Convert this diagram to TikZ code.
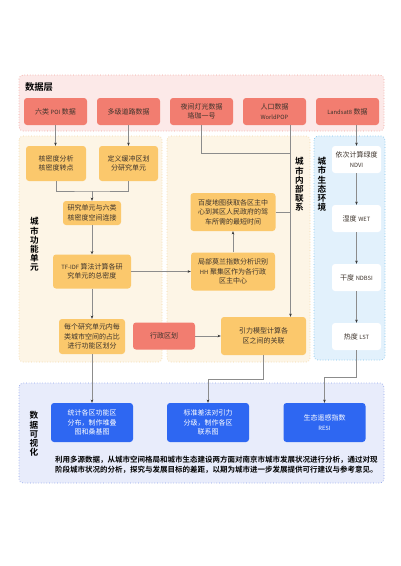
\documentclass[tikz,border=0pt]{standalone}
\usepackage{fontspec}
\setmainfont{Noto Sans CJK SC}[BoldFont={Noto Sans CJK SC Bold}]
\usetikzlibrary{positioning, arrows.meta}

\definecolor{salmon}{HTML}{F27D70}
\definecolor{amber}{HTML}{FBC86C}
\definecolor{royal}{HTML}{2E67F2}
\definecolor{textgray}{HTML}{3E342C}
\definecolor{linegray}{HTML}{8C8C8C}
\definecolor{tipdark}{HTML}{333333}
\definecolor{pinkbg}{HTML}{FCE9E8}
\definecolor{pinkline}{HTML}{F2A39B}
\definecolor{creambg}{HTML}{FDF5E6}
\definecolor{creamline}{HTML}{F3D6A2}
\definecolor{skybg}{HTML}{E2F1FC}
\definecolor{skyline}{HTML}{7DC3EC}
\definecolor{lavbg}{HTML}{E8ECFB}
\definecolor{lavline}{HTML}{8CA2EA}
\newcommand{\lat}[1]{{\fontsize{5.8}{9.5}\selectfont #1}}

\begin{document}
\begin{tikzpicture}
[
    x=1pt, y=-1pt, on grid, node distance=73pt,
    box/.style={rounded corners=3pt, align=center, inner sep=0pt, text=textgray, font=\fontsize{7}{9.5}\selectfont},
    red_box/.style={box, fill=salmon, minimum width=63pt, minimum height=27pt},
    orange_box/.style={box, fill=amber},
    white_box/.style={box, fill=white, minimum width=49pt, minimum height=27pt},
    blue_box/.style={box, fill=royal, text=white, minimum width=82pt, minimum height=39pt},
    panel/.style={rounded corners=4pt, dotted, line width=0.7pt},
    panel_label/.style={inner sep=0pt, align=center, text=black, font=\bfseries\fontsize{8.6}{9.2}\selectfont},
    link/.style={draw=linegray, line width=0.6pt},
    arrow/.style={link, -{Stealth[length=3.2pt, width=2.6pt, color=tipdark]}},
]
    \useasboundingbox[fill=white] (0,0) rectangle (400,566) ;
    % panels
    \draw[panel, draw=pinkline, fill=pinkbg] (19,75) rectangle (384,131) ;
    \draw[panel, draw=creamline, fill=creambg] (19,136) rectangle (162,362) ;
    \draw[panel, draw=creamline, fill=creambg] (167,136) rectangle (310,362) ;
    \draw[panel, draw=skyline, fill=skybg] (314,136) rectangle (385,360) ;
    \draw[panel, draw=lavline, fill=lavbg] (19,383) rectangle (384,483) ;

    \node[panel_label, font=\bfseries\fontsize{9.3}{10}\selectfont] (data_title) at (39,87) {数据层} ;
    \node[panel_label] (func_label) at (34.5,244.5) {城\\市\\功\\能\\单\\元} ;
    \node[panel_label] (link_label) at (299.5,184.5) {城\\市\\内\\部\\联\\系} ;
    \node[panel_label] (eco_label) at (322,184.5) {城\\市\\生\\态\\环\\境} ;
    \node[panel_label] (vis_label) at (34,434) {数\\据\\可\\视\\化} ;

    % data layer
    \node[red_box] (poi) at (55.5,111.5) {六类 \lat{POI} 数据} ;
    \node[red_box, right = of poi] (road) {多级道路数据} ;
    \node[red_box, right = of road] (light) {夜间灯光数据\\珞珈一号} ;
    \node[red_box, right = of light] (pop) {人口数据\\\lat{WorldPOP}} ;
    \node[red_box, right = of pop] (landsat) {\lat{Landsat8} 数据} ;

    % city function units
    \node[orange_box, minimum width=60pt, minimum height=35pt] (kde) at (56,163.5) {核密度分析\\核密度转点} ;
    \node[orange_box, minimum width=59pt, minimum height=35pt, right = 72.5pt of kde] (buffer) {定义缓冲区划\\分研究单元} ;
    \node[orange_box, minimum width=58pt, minimum height=24pt] (join) at (92,213) {研究单元与六类\\核密度空间连接} ;
    \node[orange_box, minimum width=78pt, minimum height=34pt, below = 58.5pt of join] (tfidf) {\lat{TF-IDF} 算法计算各研\\究单元的总密度} ;
    \node[orange_box, minimum width=66pt, minimum height=35pt, below = 65pt of tfidf] (share) {每个研究单元内每\\类城市空间的占比\\进行功能区划分} ;
    \node[red_box, minimum width=62pt] (admin) at (164,336) {行政区划} ;

    % city internal links
    \node[orange_box, minimum width=84pt, minimum height=38pt] (moran) at (233,271.5) {局部莫兰指数分析识别\\\lat{HH} 聚集区作为各行政\\区主中心} ;
    \node[orange_box, minimum width=85pt, minimum height=38pt, above = 59.5pt of moran] (baidu) {百度地图获取各区主中\\心到其区人民政府的驾\\车所需的最短时间} ;
    \node[orange_box, minimum width=85pt, minimum height=38pt] (gravity) at (263.5,336) {引力模型计算各\\区之间的关联} ;

    % city ecology
    \node[white_box] (ndvi) at (356.5,159.5) {依次计算绿度\\\lat{NDVI}} ;
    \node[white_box, below = 59pt of ndvi] (wet) {湿度 \lat{WET}} ;
    \node[white_box, below = 59pt of wet] (ndbsi) {干度 \lat{NDBSI}} ;
    \node[white_box, below = 59pt of ndbsi] (lst) {热度 \lat{LST}} ;

    % visualisation
    \node[blue_box] (stat) at (92,422.5) {统计各区功能区\\分布，制作堆叠\\图和桑基图} ;
    \node[blue_box, right = 116pt of stat] (grade) {标准差法对引力\\分级，制作各区\\联系图} ;
    \node[blue_box, right = 116.5pt of grade] (resi) {生态遥感指数\\\lat{RESI}} ;
    \node[inner sep=0pt, align=left, text=black, font=\bfseries\fontsize{7.5}{10}\selectfont] (summary) at (216.5,465)
        {利用多源数据，从城市空间格局和城市生态建设两方面对南京市城市发展状况进行分析，通过对现\\阶段城市状况的分析，探究与发展目标的差距，以期为城市进一步发展提供可行建议与参考意见。} ;

    \coordinate (merge) at (92,191) ;
    \coordinate (pop_drop) at ([xshift=16pt]pop.south) ;
    \coordinate (light_join) at (290,153) ;

    \draw[arrow] (poi.south) -- (poi.south |- kde.north) ;
    \draw[arrow] (road.south) -- (road.south |- buffer.north) ;
    \draw[link] (kde.south) |- (merge) -| (buffer.south) ;
    \draw[arrow] (merge) -- (join.north) ;
    \draw[arrow] (join) -- (tfidf) ;
    \draw[arrow] (tfidf) -- (share) ;
    \draw[arrow] (tfidf.east) -- (tfidf.east -| moran.west) ;
    \draw[arrow] (moran) -- (baidu) ;
    \draw[link] (light.south) |- (light_join) ;
    \draw[arrow] (pop_drop) -- (pop_drop |- gravity.north) ;
    \draw[link] (baidu.east) -- (baidu.east -| pop_drop) ;
    \draw[arrow] (admin.east) -- (admin.east -| gravity.west) ;
    \draw[arrow] (ndvi.north |- landsat.south) -- (ndvi.north) ;
    \draw[arrow] (ndvi) -- (wet) ;
    \draw[arrow] (wet) -- (ndbsi) ;
    \draw[arrow] (ndbsi) -- (lst) ;
    \draw[arrow] (share) -- (stat) ;
    \draw[arrow] (gravity.south) -- ++(0,24) -| (grade.north) ;
    \draw[arrow] (lst.south) -- ++(0,27) -| (resi.north) ;
\end{tikzpicture}
\end{document}
